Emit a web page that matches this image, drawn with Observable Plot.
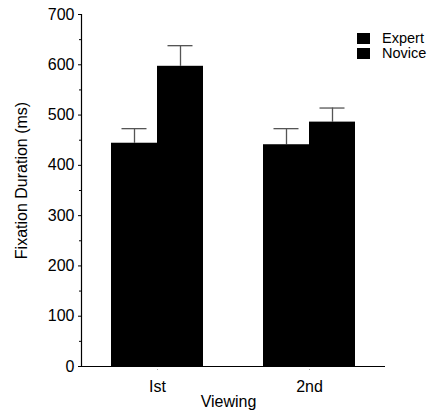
<!DOCTYPE html>
<html>
<head>
<meta charset="utf-8">
<script src="https://cdn.jsdelivr.net/npm/d3@7"></script>
<script src="https://cdn.jsdelivr.net/npm/@observablehq/plot@0.6"></script>
<style>
  html, body { margin: 0; padding: 0; background: #fff; }
  #wrap { position: relative; width: 431px; height: 416px; font-family: "Liberation Sans", Arial, sans-serif; }
  .legend { position: absolute; left: 357px; top: 31px; font-size: 14.5px; line-height: 15px; color: #000; }
  .legend div { display: flex; align-items: center; height: 15px; }
  .legend span.sw { display: inline-block; width: 13px; height: 11px; background: #000; margin-right: 12px; }
</style>
</head>
<body>
<div id="wrap"></div>
<script>
const viewings = ["Ist", "2nd"];
const series = ["Expert", "Novice"];
const expertMean = [444, 441];
const noviceMean = [597, 486];
const expertErr = [29, 32];
const noviceErr = [41, 28];
const yTicks = [0, 100, 200, 300, 400, 500, 600, 700];
const yMinorTicks = [50, 150, 250, 350, 450, 550, 650];

const expert = viewings.map((v, i) => ({viewing: v, value: expertMean[i], hi: expertMean[i] + expertErr[i]}));
const novice = viewings.map((v, i) => ({viewing: v, value: noviceMean[i], hi: noviceMean[i] + noviceErr[i]}));

const half = 46;      // half band width in px
const capHalf = 12.5; // half cap width

const font = "Liberation Sans, Arial, sans-serif";

const chart = Plot.plot({
  width: 431,
  height: 416,
  marginLeft: 81,
  marginRight: 46,
  marginTop: 14,
  marginBottom: 50,
  style: {fontFamily: font, fontSize: "16px", color: "#000", background: "#fff"},
  x: {domain: viewings, paddingInner: 0.395, paddingOuter: 0.1975, axis: null},
  y: {domain: [0, 700], axis: null},
  marks: [
    // error bar stems
    Plot.ruleX(expert, {x: "viewing", y1: "value", y2: "hi", dx: -half / 2, stroke: "#555", strokeWidth: 1.3}),
    Plot.ruleX(novice, {x: "viewing", y1: "value", y2: "hi", dx: half / 2, stroke: "#555", strokeWidth: 1.3}),
    // caps
    Plot.tickY(expert, {x: "viewing", y: "hi", insetLeft: half / 2 - capHalf, insetRight: half + half / 2 - capHalf, stroke: "#555", strokeWidth: 1.3}),
    Plot.tickY(novice, {x: "viewing", y: "hi", insetLeft: half + half / 2 - capHalf, insetRight: half / 2 - capHalf, stroke: "#555", strokeWidth: 1.3}),
    // bars
    Plot.barY(expert, {x: "viewing", y: "value", insetRight: half, fill: "#000"}),
    Plot.barY(novice, {x: "viewing", y: "value", insetLeft: half, fill: "#000"}),
    // axes
    Plot.axisY({ticks: yTicks, tickSize: 3, tickPadding: 4, label: null, fontSize: 16}),
    Plot.axisY({ticks: yMinorTicks, tickSize: 2, text: null, label: null}),
    Plot.axisX({tickSize: 6, tickPadding: 8, label: null, stroke: "#aaa", strokeDasharray: "1,2", fontSize: 16}),
    Plot.frame({anchor: "left", stroke: "#000", strokeWidth: 1.2}),
    Plot.ruleY([0], {stroke: "#000", strokeWidth: 1.2}),
    // axis titles
    Plot.text(["Viewing"], {frameAnchor: "bottom", dy: 35, dx: -5, lineAnchor: "middle", textAnchor: "middle", fontSize: 16}),
    Plot.text(["Fixation Duration (ms)"], {frameAnchor: "left", dx: -60, dy: -10, rotate: -90, textAnchor: "middle", lineAnchor: "middle", fontSize: 16, letterSpacing: "0.5px"})
  ]
});

const wrap = document.getElementById("wrap");
wrap.appendChild(chart);
const legend = document.createElement("div");
legend.className = "legend";
series.forEach(s => {
  const row = document.createElement("div");
  const sw = document.createElement("span");
  sw.className = "sw";
  row.appendChild(sw);
  row.appendChild(document.createTextNode(s));
  legend.appendChild(row);
});
wrap.appendChild(legend);
</script>
</body>
</html>
